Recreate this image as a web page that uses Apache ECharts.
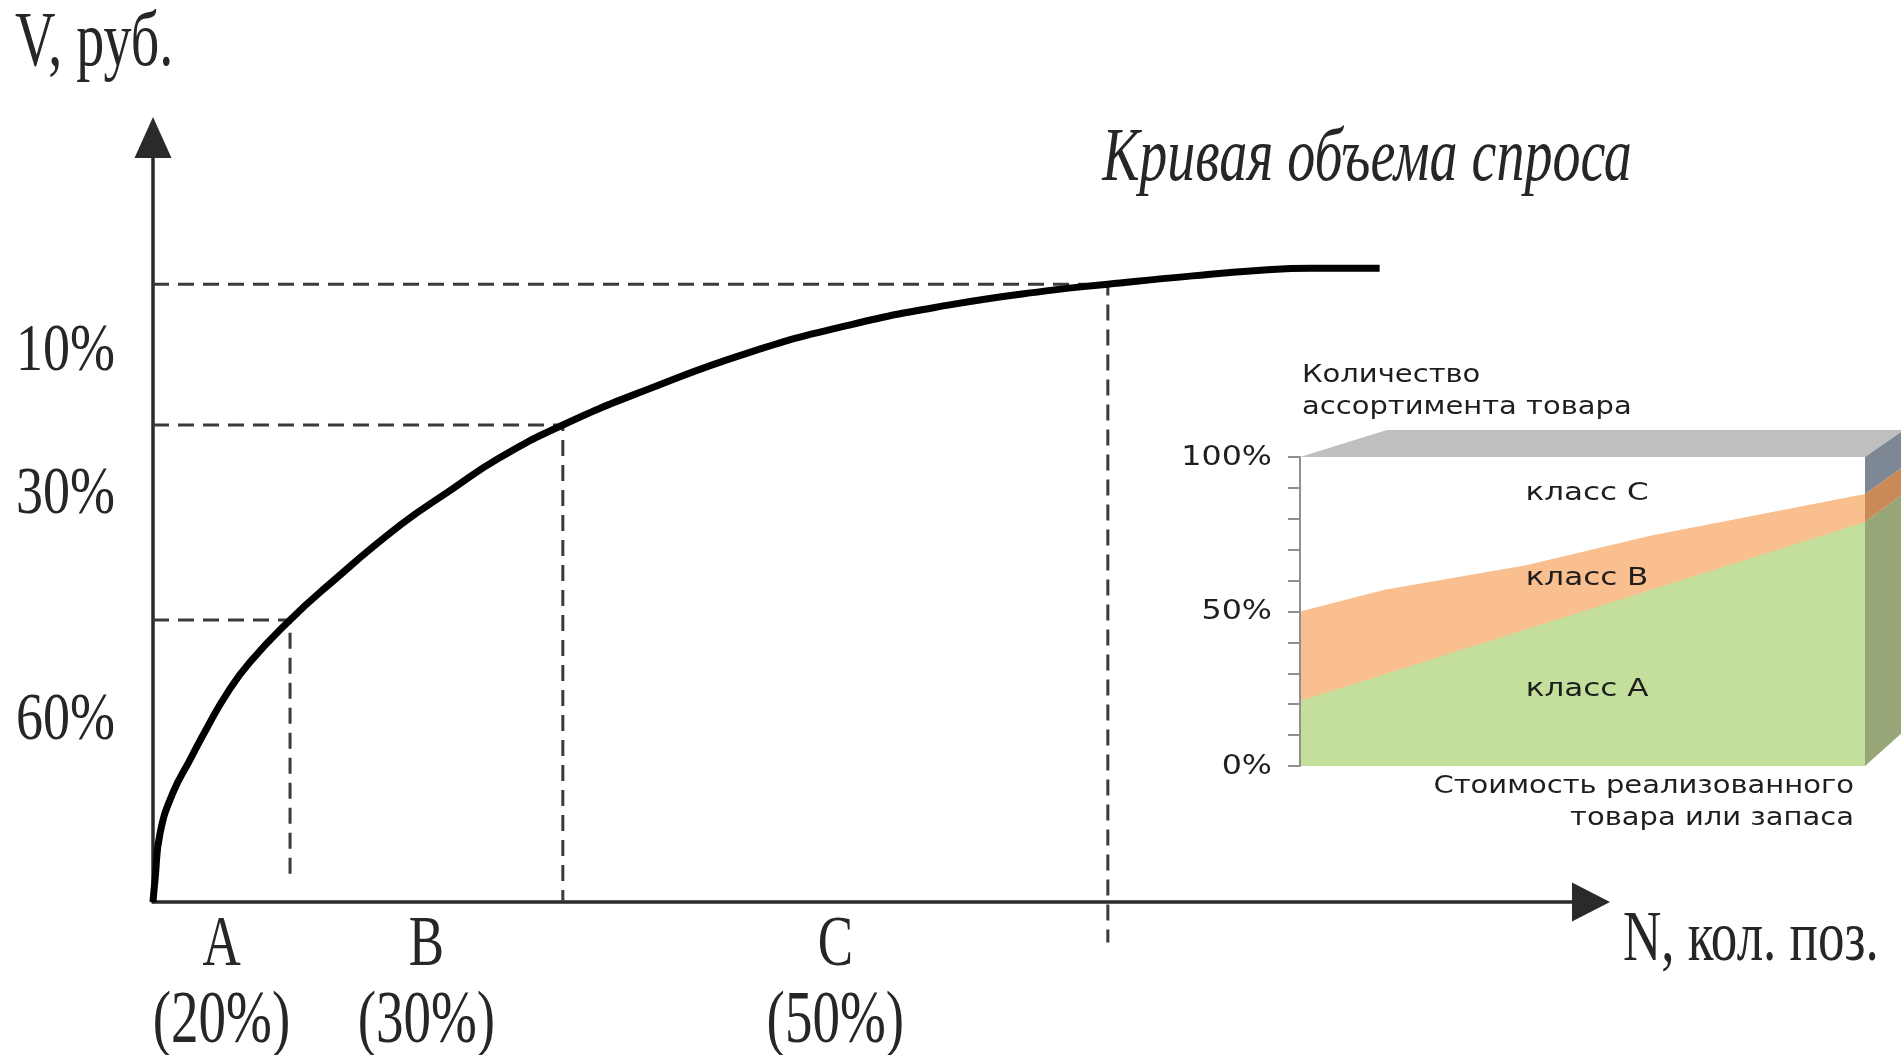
<!DOCTYPE html>
<html>
<head>
<meta charset="utf-8">
<title>Кривая объема спроса</title>
<script src="https://cdn.jsdelivr.net/npm/echarts@6/dist/echarts.min.js"></script>
<style>
  html, body { margin: 0; padding: 0; background: #ffffff; }
  #chart { width: 1901px; height: 1055px; }
</style>
</head>
<body>
<div id="chart"></div>
<script>
// Demand volume curve: N (number of positions) against V (roubles)
const curveN = [0, 0.14, 0.49, 1.39, 2.57, 3.76, 5.15, 6.75, 9.53, 12.1, 17.2, 20.65, 24.1, 28.5, 34.6, 41.5, 48.5, 55.4, 62.4, 66.4, 72.3, 76.8, 80.5, 85.3];
const curveV = [0, 2.9, 9.0, 14.3, 18.6, 22.8, 27.3, 31.4, 36.9, 41.3, 49.3, 53.8, 58.1, 62.4, 67.2, 71.9, 75.5, 78.1, 80.0, 80.8, 81.9, 82.6, 82.9, 82.9];

// ABC class boundaries read on the curve, and where each drop line stops
const boundN = [9.53, 28.5, 66.4];
const boundV = [36.9, 62.4, 80.8];
const dropEndV = [3.5, 0, -5.3];

const classNames = ['A', 'B', 'C'];
const classShares = ['(20%)', '(30%)', '(50%)'];
const volumeShares = ['10%', '30%', '60%'];
const volumeShareV = [71.9, 53.2, 23.7];

// Inset: share of assortment vs value of goods sold
const insetBCx = [0, 15, 40, 62, 100];
const insetBC = [50, 57, 65, 74.5, 88];
const insetABx = [0, 100];
const insetAB = [21, 79];
const insetTickLabels = [0, 50, 100];
const insetClassText = ['класс С', 'класс В', 'класс А'];
const insetClassX = [50.8, 50.8, 50.8];
const insetClassY = [88.3, 60.8, 24.9];

const SERIF = "'Liberation Serif', 'Times New Roman', serif";
const SANS = "'DejaVu Sans', Verdana, sans-serif";
const INK = '#262626';

const chart = echarts.init(document.getElementById('chart'), null, { renderer: 'canvas' });

const dashStyle = { color: '#3a3a3a', width: 3, type: [16, 9] };

const dropSeries = boundN.map((n, i) => ({
  type: 'line',
  xAxisIndex: 0, yAxisIndex: 0,
  data: [[0, boundV[i]], [n, boundV[i]], [n, dropEndV[i]]],
  showSymbol: false,
  symbol: 'none',
  clip: false,
  silent: true,
  lineStyle: dashStyle,
  z: 3
}));

chart.setOption({
  animation: false,
  backgroundColor: '#ffffff',
  grid: [
    { left: 153, right: 310, top: 137.5, bottom: 153 },
    { left: 1300, right: 36, top: 457, bottom: 289 }
  ],
  xAxis: [
    {
      gridIndex: 0, type: 'value', min: 0, max: 100,
      axisLine: { show: true, onZero: false, symbol: ['none', 'triangle'], symbolSize: [39, 38],
        lineStyle: { color: '#2a2a2a', width: 3.5 } },
      axisTick: { show: false }, axisLabel: { show: false }, splitLine: { show: false }
    },
    {
      gridIndex: 1, type: 'value', min: 0, max: 100, show: false
    }
  ],
  yAxis: [
    {
      gridIndex: 0, type: 'value', min: 0, max: 100,
      axisLine: { show: true, onZero: false, symbol: ['none', 'triangle'], symbolSize: [37, 41],
        lineStyle: { color: '#2a2a2a', width: 3.5 } },
      axisTick: { show: false }, axisLabel: { show: false }, splitLine: { show: false }
    },
    {
      gridIndex: 1, type: 'value', min: 0, max: 100, interval: 10, z: 5,
      axisLine: { show: true, lineStyle: { color: '#8f8f8f', width: 2 } },
      axisTick: { show: true, length: 12, lineStyle: { color: '#8f8f8f', width: 2 } },
      axisLabel: { show: false },
      splitLine: { show: false }
    }
  ],
  series: [
    ...dropSeries,
    {
      name: 'Кривая объема спроса',
      type: 'line',
      xAxisIndex: 0, yAxisIndex: 0,
      data: curveN.map((n, i) => [n, curveV[i]]),
      smooth: 0.5,
      showSymbol: false,
      symbol: 'none',
      clip: false,
      lineStyle: { color: '#000000', width: 7, cap: 'butt' },
      z: 4
    },
    {
      name: 'класс В',
      type: 'line',
      xAxisIndex: 1, yAxisIndex: 1,
      data: insetBCx.map((x, i) => [x, insetBC[i]]),
      showSymbol: false, symbol: 'none',
      lineStyle: { width: 0 },
      areaStyle: { color: '#fabf8f', opacity: 1, origin: 'start' },
      z: 2
    },
    {
      name: 'класс А',
      type: 'line',
      xAxisIndex: 1, yAxisIndex: 1,
      data: insetABx.map((x, i) => [x, insetAB[i]]),
      showSymbol: false, symbol: 'none',
      lineStyle: { width: 0 },
      areaStyle: { color: '#c4df9b', opacity: 1, origin: 'start' },
      z: 2
    }
  ]
});

// Pixel helpers on the two grids
const mainPx = (n, v) => chart.convertToPixel({ gridIndex: 0 }, [n, v]);
const insetPx = (x, y) => chart.convertToPixel({ gridIndex: 1 }, [x, y]);

function serifText(text, x, y, align, opts) {
  const o = opts || {};
  return {
    type: 'text',
    x: x, y: y,
    scaleX: o.scaleX || 1,
    scaleY: o.scaleY || 1.35,
    silent: true,
    z: 10,
    style: {
      text: text,
      fill: o.fill || INK,
      font: (o.italic ? 'italic ' : '') + (o.size || 53) + 'px ' + SERIF,
      textAlign: align, align: align,
      textVerticalAlign: 'middle', verticalAlign: 'middle'
    }
  };
}

function sansText(text, x, y, align, sx) {
  return {
    type: 'text',
    x: x, y: y,
    scaleX: sx || 1.16, scaleY: 1,
    silent: true,
    z: 10,
    style: {
      text: text,
      fill: '#1e1e1e',
      font: '25px ' + SANS,
      textAlign: align, align: align,
      textVerticalAlign: 'middle', verticalAlign: 'middle'
    }
  };
}

const graphics = [];

// Axis titles and curve caption
graphics.push(serifText('V, руб.', 15, 45, 'left', { scaleY: 1.38, size: 56 }));
graphics.push(serifText('N, кол. поз.', 1623, 941, 'left'));
graphics.push(serifText('Кривая объема спроса', 1367, 160, 'center', { italic: true, size: 56 }));

// Volume shares beside the V axis
volumeShares.forEach((t, i) => {
  const p = mainPx(0, volumeShareV[i]);
  graphics.push(serifText(t, p[0] - 38, p[1], 'right', { scaleY: 1.25, size: 54 }));
});

// Class names and their share of positions under the N axis
const classStarts = [0].concat(boundN.slice(0, 2));
classNames.forEach((c, i) => {
  const mid = (classStarts[i] + boundN[i]) / 2;
  const p = mainPx(mid, 0);
  graphics.push(serifText(c, p[0], p[1] + 44, 'center'));
  graphics.push(serifText(classShares[i], p[0], p[1] + 121, 'center', { size: 55 }));
});

// Inset tick labels at 0, 50 and 100 %
insetTickLabels.forEach(v => {
  const p = insetPx(0, v);
  graphics.push({
    type: 'text', x: p[0] - 28, y: p[1] + 1, scaleX: 1.22, silent: true, z: 10,
    style: {
      text: v + '%', fill: '#1e1e1e', font: '26px ' + SANS,
      textAlign: 'right', align: 'right',
      textVerticalAlign: 'middle', verticalAlign: 'middle'
    }
  });
});

// Inset box: top face and shaded right side
const tl = insetPx(0, 100), tr = insetPx(100, 100);
graphics.push({
  type: 'polygon', silent: true, z: 1,
  shape: { points: [tl, [tl[0] + 87, tl[1] - 27], [tr[0] + 39, tr[1] - 27], tr] },
  style: { fill: '#bfbfbf' }
});
const sideBack = (p, y) => [p[0] + 39, p[1] - 27 - 8 * (1 - y / 100)];
const aEnd = insetAB[insetAB.length - 1];
const bcEnd = insetBC[insetBC.length - 1];
[[0, aEnd, '#97a676'], [aEnd, bcEnd, '#c98a57'], [bcEnd, 100, '#7d8894']].forEach(([y0, y1, col]) => {
  const f0 = insetPx(100, y0), f1 = insetPx(100, y1);
  graphics.push({
    type: 'polygon', silent: true, z: 1,
    shape: { points: [f0, f1, sideBack(f1, y1), sideBack(f0, y0)] },
    style: { fill: col }
  });
});

// Inset captions
const yTitle = insetPx(0, 100);
graphics.push(sansText('Количество', yTitle[0] + 2, 375, 'left'));
graphics.push(sansText('ассортимента товара', yTitle[0] + 2, 407, 'left'));
const xTitle = insetPx(100, 0);
graphics.push(sansText('Стоимость реализованного', xTitle[0] - 11, 786, 'right'));
graphics.push(sansText('товара или запаса', xTitle[0] - 11, 818, 'right'));
insetClassText.forEach((t, i) => {
  const p = insetPx(insetClassX[i], insetClassY[i]);
  graphics.push(sansText(t, p[0], p[1], 'center', 1.24));
});

chart.setOption({ graphic: { elements: graphics } });
</script>
</body>
</html>
